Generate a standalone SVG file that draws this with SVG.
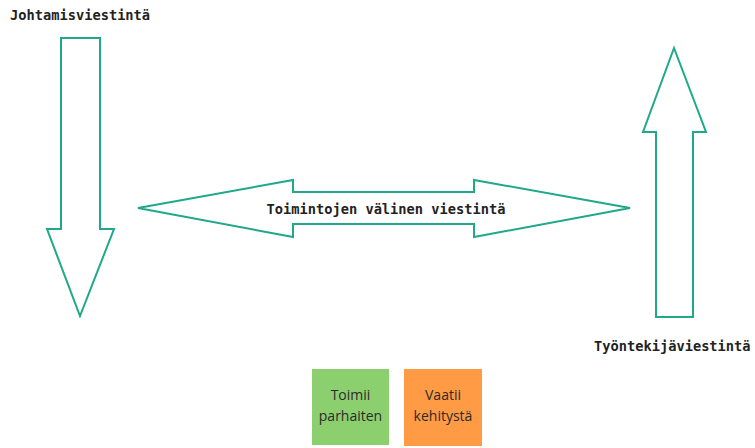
<svg xmlns="http://www.w3.org/2000/svg" width="755" height="448" viewBox="0 0 755 448">
  <style>
    .arrow { fill: #ffffff; stroke: #1fa88a; stroke-width: 2; stroke-linejoin: miter; }
    .lbl { font-family: "DejaVu Sans Mono", "Liberation Mono", monospace; font-weight: bold; font-size: 13.7px; fill: #222222; }
    .note { font-family: "Open Sans", "Noto Sans", sans-serif; font-size: 14px; fill: #2b2b2b; text-anchor: middle; }
  </style>
  <rect width="755" height="448" fill="#ffffff"/>

  <g id="connectors">
    <!-- downward arrow -->
    <polygon id="arrow-down" class="arrow" points="61,38 100,38 100,229 114,229 80,316 47,229 61,229"/>
    <!-- upward arrow -->
    <polygon id="arrow-up" class="arrow" points="674,48 706,132 693,132 693,317 656,317 656,132 643,132"/>
    <!-- double-headed horizontal arrow -->
    <polygon id="arrow-both" class="arrow" points="138,208 293,180 293,192 474,192 474,180 630,208 474,237 474,224 293,224 293,237"/>
  </g>

  <g id="label-johtamis">
    <text class="lbl" x="10" y="20">Johtamisviestintä</text>
  </g>
  <g id="label-toimintojen">
    <text class="lbl" x="386" y="214" text-anchor="middle">Toimintojen välinen viestintä</text>
  </g>
  <g id="label-tyontekija">
    <text class="lbl" x="594" y="351">Työntekijäviestintä</text>
  </g>

  <g id="note-green">
    <rect x="312" y="369" width="77" height="76" fill="#8ccf6f"/>
    <text class="note" x="350.5" y="400">Toimii</text>
    <text class="note" x="350.5" y="421">parhaiten</text>
  </g>
  <g id="note-orange">
    <rect x="404" y="369" width="78" height="77" fill="#ff9a45"/>
    <text class="note" x="443" y="400">Vaatii</text>
    <text class="note" x="443" y="421">kehitystä</text>
  </g>
</svg>
